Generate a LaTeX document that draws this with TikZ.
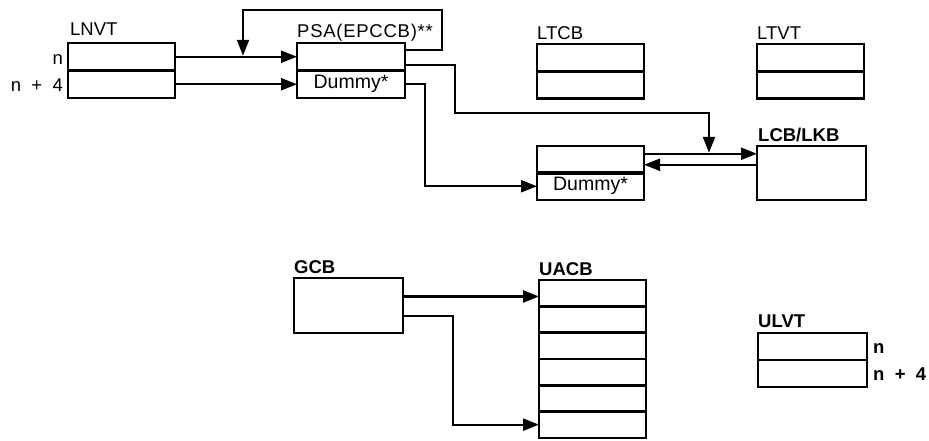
\documentclass[tikz,border=0pt]{standalone}
\usepackage{fontspec}
\setmainfont{Liberation Sans}
\usetikzlibrary{arrows.meta,calc}
\begin{document}
\begin{tikzpicture}[x=1pt,y=-1pt,
  cell/.style={draw, line width=2.6pt, anchor=north west, inner sep=0pt, outer sep=0pt,
    minimum width=107pt, minimum height=27.5pt, font=\fontsize{19.5}{22}\selectfont},
  lbl/.style={inner sep=0pt, anchor=base west, font=\fontsize{18.5}{22}\selectfont},
  blbl/.style={lbl, font=\fontsize{18.5}{22}\selectfont\bfseries},
  conn/.style={line width=2.3pt, -{Triangle[length=16pt,width=12pt]}},
  plain/.style={line width=2.3pt}]
\useasboundingbox (0,0) rectangle (929,440);

% LNVT
\node[cell] (lnvtA) at (68,43) {};
\node[cell] (lnvtB) at (68,70.5) {};
\node[lbl] (tlnvt) at ($(lnvtA.north west)+(2,-8)$) {LNVT};
\node[lbl, anchor=base east] (tn1) at ($(lnvtA.west)+(-5,8)$) {n};
\node[lbl, anchor=base east] (tn2) at ($(lnvtB.west)+(-5,7)$) {n\ \ +\ \ 4};

% PSA
\node[cell, minimum width=108pt] (psaA) at (297,43) {};
\node[cell, minimum width=108pt] (psaB) at (297,70.5) {Dummy*};
\node[lbl] (tpsa) at ($(psaA.north west)+(0,-6)$) {\addfontfeature{LetterSpace=4}PSA(EPCCB)**};

% LTCB
\node[cell] (ltcbA) at (537,44) {};
\node[cell] (ltcbB) at (537,71) {};
\node[lbl] (tltcb) at ($(ltcbA.north west)+(0,-5)$) {LTCB};

% LTVT
\node[cell] (ltvtA) at (757,44) {};
\node[cell] (ltvtB) at (757,71) {};
\node[lbl] (tltvt) at ($(ltvtA.north west)+(0,-5)$) {LTVT};

% second block
\node[cell] (blkA) at (537,146) {};
\node[cell] (blkB) at (537,172.5) {Dummy*};

% LCB/LKB
\node[cell, minimum width=109pt, minimum height=54pt] (lcb) at (757,146) {};
\node[blbl] (tlcb) at ($(lcb.north west)+(1,-5)$) {LCB/LKB};

% GCB
\node[cell, minimum width=109pt, minimum height=55pt] (gcb) at (294,278) {};
\node[blbl] (tgcb) at ($(gcb.north west)+(0,-5)$) {GCB};

% UACB
\foreach \i in {1,...,6} {
  \node[cell, minimum height=26.3pt] (uacb\i) at (539,{280+(\i-1)*26.3}) {};
}
\node[blbl] (tuacb) at ($(uacb1.north west)+(0,-5)$) {UACB};

% ULVT
\node[cell, minimum width=109pt, minimum height=27pt] (ulvtA) at (758,333) {};
\node[cell, minimum width=109pt, minimum height=27pt] (ulvtB) at (758,360) {};
\node[blbl] (tulvt) at ($(ulvtA.north west)+(0,-6)$) {ULVT};
\node[blbl] (tun1) at ($(ulvtA.east)+(6,6.5)$) {n};
\node[blbl] (tun2) at ($(ulvtB.east)+(6,6.5)$) {n\ \ +\ \ 4};

% connectors
\draw[conn] (lnvtA.east) -- (psaA.west);
\draw[conn] (lnvtB.east) -- (psaB.west);

\coordinate (fbR) at (442,10);
\coordinate (fbL) at (243,10);
\draw[conn] ([yshift=6.75pt]psaA.east) -| (fbR) -- (fbL) -- ($(fbL |- lnvtA.east)+(0,-1)$);

\coordinate (c4a) at (455,113);
\coordinate (c4b) at (709,113);
\coordinate (upA) at ([yshift=6pt]blkA.east);
\coordinate (upB) at (upA -| lcb.west);
\draw[conn] ([yshift=-8pt]psaA.east) -| (c4a) -- (c4b) -- ($(c4b |- upA)+(0,-1)$);
\draw[conn] (upA) -- (upB);
\coordinate (loA) at ([yshift=-5pt]blkA.east);
\draw[conn] (loA -| lcb.west) -- (loA);

\coordinate (c5) at (425,0);
\draw[conn] (psaB.east) -| (c5 |- blkB.west) -- (blkB.west);

\coordinate (g1) at ([yshift=9pt]gcb.east);
\draw[conn] (g1) -- (g1 -| uacb1.west);
\coordinate (c6) at (453,0);
\draw[conn] ([yshift=-10.5pt]gcb.east) -| (c6 |- uacb6.west) -- (uacb6.west);
\end{tikzpicture}
\end{document}
